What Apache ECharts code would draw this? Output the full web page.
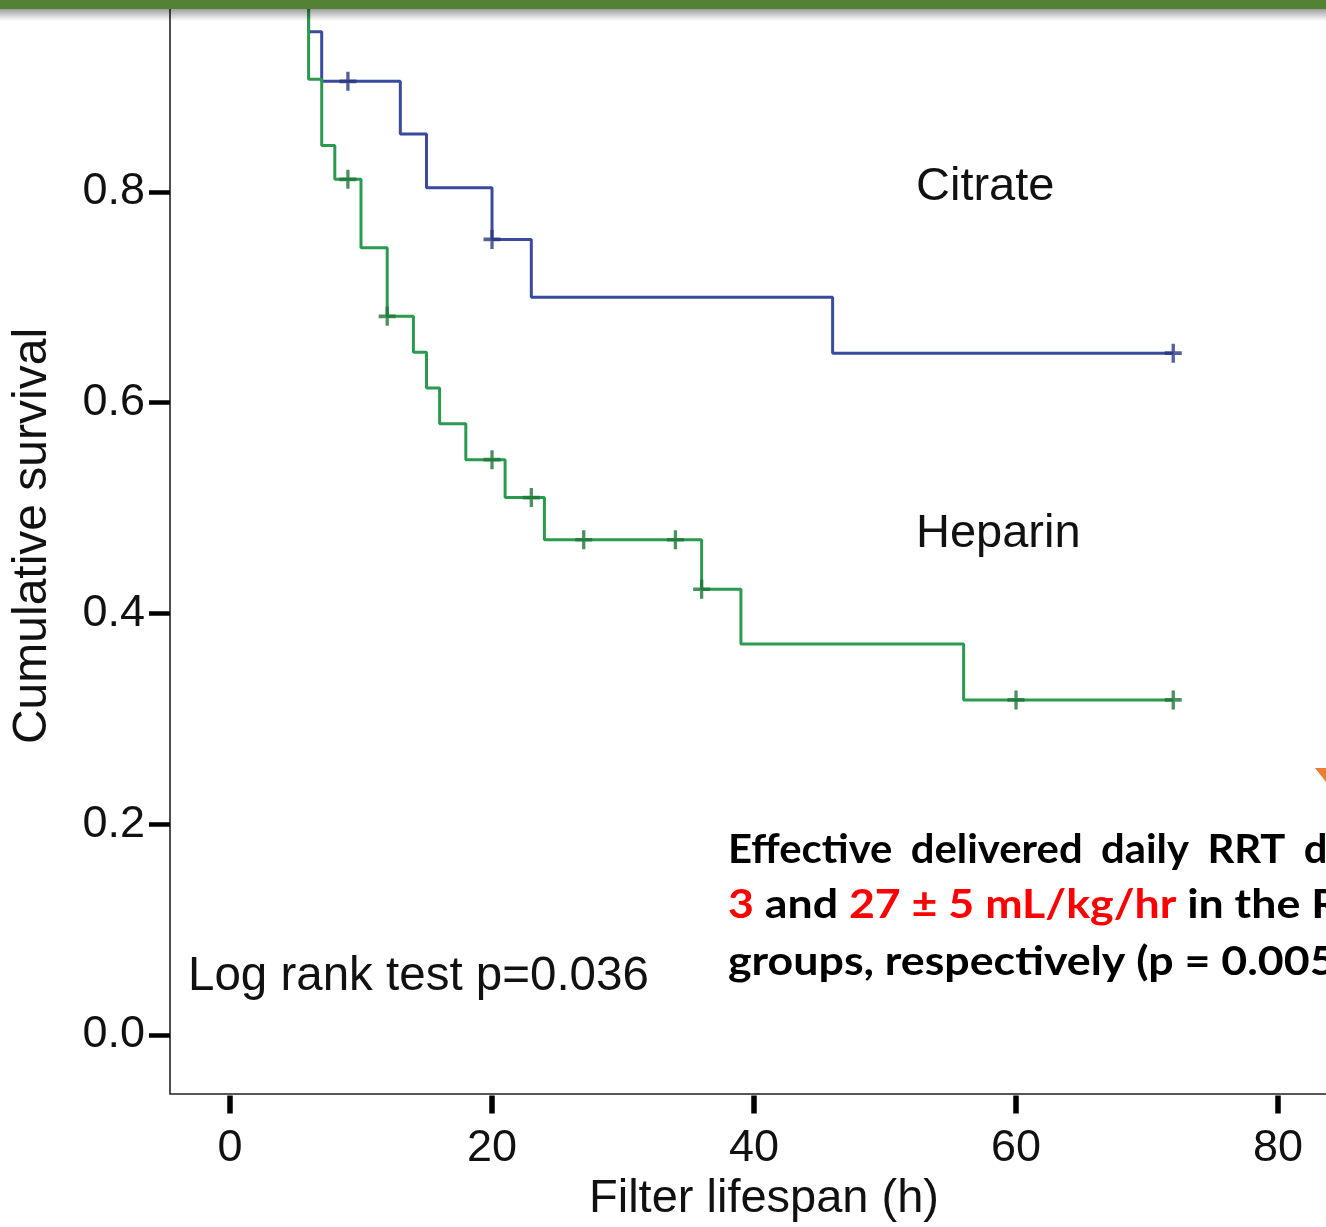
<!DOCTYPE html>
<html>
<head>
<meta charset="utf-8">
<script src="https://cdn.jsdelivr.net/npm/echarts@6/dist/echarts.min.js"></script>
<style>
  html, body { margin: 0; padding: 0; background: #ffffff; }
  #chart { width: 1326px; height: 1227px; }
</style>
</head>
<body>
<div id="chart"></div>
<script>
// ---- Data (Kaplan-Meier step points) ----
var citrateTimes = [0, 6, 7, 13, 15, 20, 23, 46, 72];
var citrateSurv  = [1.0, 0.952, 0.905, 0.855, 0.804, 0.755, 0.700, 0.647, 0.647];
var citrateCensorTimes = [9, 20, 72];
var citrateCensorSurv  = [0.905, 0.755, 0.647];

var heparinTimes = [0, 6, 7, 8, 10, 12, 14, 15, 16, 18, 21, 24, 36, 39, 56, 72];
var heparinSurv  = [1.0, 0.907, 0.844, 0.812, 0.747, 0.682, 0.648, 0.614, 0.580, 0.546, 0.510, 0.470, 0.423, 0.371, 0.318, 0.318];
var heparinCensorTimes = [9, 12, 20, 23, 27, 34, 36, 60, 72];
var heparinCensorSurv  = [0.812, 0.682, 0.546, 0.510, 0.470, 0.470, 0.423, 0.318, 0.318];

var xTickValues = [0, 20, 40, 60, 80];
var yTickValues = [0, 0.2, 0.4, 0.6, 0.8];

var xAxisTitle = 'Filter lifespan (h)';
var yAxisTitle = 'Cumulative survival';
var groupLabels = ['Citrate', 'Heparin'];
var testLabel = 'Log rank test p=0.036';

function zip(a, b) { return a.map(function (v, i) { return [v, b[i]]; }); }

var BLUE = '#3A4A9C';
var BLUE_DARK = '#2A3780';
var GREEN = '#2A9A4E';
var GREEN_DARK = '#1E7638';
var PLUS = 'path://M7.25,0H10.75V7.25H18V10.75H10.75V18H7.25V10.75H0V7.25H7.25Z';
var SANS = '"Liberation Sans", Arial, Helvetica, sans-serif';
var BOLD = '"Lato", "Noto Sans", sans-serif';
var BFONT = 'bold 41px ' + BOLD;

var XMIN = -4.58, XMAX = 83.66;
var YMIN = -0.0555, YMAX = 0.98;

var chart = echarts.init(document.getElementById('chart'), null, { renderer: 'canvas' });

var option = {
  animation: false,
  backgroundColor: '#ffffff',
  grid: { left: 170, right: 0, top: 2.3, bottom: 133.5, containLabel: false },
  xAxis: [
    {
      type: 'value', min: XMIN, max: XMAX, position: 'bottom',
      axisLine: { show: true, onZero: false, lineStyle: { color: '#222', width: 1.6 } },
      axisTick: { show: false }, axisLabel: { show: false }, splitLine: { show: false }
    },
    {
      type: 'value', min: XMIN, max: XMAX, position: 'bottom', offset: 2,
      axisLine: { show: false, onZero: false },
      axisTick: { show: true, customValues: xTickValues, length: 18, lineStyle: { color: '#000', width: 5.5 } },
      axisLabel: { show: true, customValues: xTickValues, fontSize: 45, fontFamily: SANS, color: '#111', margin: 31 },
      splitLine: { show: false }
    }
  ],
  yAxis: [
    {
      type: 'value', min: YMIN, max: YMAX,
      axisLine: { show: true, onZero: false, lineStyle: { color: '#222', width: 1.6 } },
      axisTick: { show: true, customValues: yTickValues, length: 21, lineStyle: { color: '#000', width: 4.5 } },
      axisLabel: {
        show: true, customValues: yTickValues, fontSize: 45, fontFamily: SANS, color: '#111', margin: 25,
        formatter: function (v) { return v.toFixed(1); }
      },
      splitLine: { show: false }
    }
  ],
  series: [
    {
      name: groupLabels[0], type: 'line', step: 'end', data: zip(citrateTimes, citrateSurv),
      showSymbol: false, symbol: 'none', clip: true,
      lineStyle: { color: BLUE, width: 3 }, z: 2
    },
    {
      name: groupLabels[1], type: 'line', step: 'end', data: zip(heparinTimes, heparinSurv),
      showSymbol: false, symbol: 'none', clip: true,
      lineStyle: { color: GREEN, width: 3 }, z: 3
    },
    {
      name: groupLabels[0] + ' censored', type: 'scatter', data: zip(citrateCensorTimes, citrateCensorSurv),
      symbol: PLUS, symbolSize: [17, 19], itemStyle: { color: BLUE_DARK }, z: 4
    },
    {
      name: groupLabels[1] + ' censored', type: 'scatter', data: zip(heparinCensorTimes, heparinCensorSurv),
      symbol: PLUS, symbolSize: [17, 19], itemStyle: { color: GREEN_DARK }, z: 5
    }
  ],
  graphic: [
    // top banner with shadow
    { type: 'rect', shape: { x: 0, y: 9, width: 1326, height: 12 }, z: 100,
      style: { fill: new echarts.graphic.LinearGradient(0, 0, 0, 1, [
        { offset: 0, color: 'rgba(0,0,0,0.38)' }, { offset: 1, color: 'rgba(0,0,0,0)' }]) } },
    { type: 'rect', shape: { x: 0, y: 0, width: 1326, height: 9 }, z: 101, style: { fill: '#548235' } },
    // small orange fragment at right edge
    { type: 'polygon', shape: { points: [[1315, 768], [1326, 768], [1326, 782]] }, z: 50, style: { fill: '#ED7D31' } },
    // group labels
    { type: 'text', x: 916, y: 187, z: 20,
      style: { text: groupLabels[0], font: '47px ' + SANS, fill: '#111', align: 'left', verticalAlign: 'middle' } },
    { type: 'text', x: 916, y: 534, z: 20,
      style: { text: groupLabels[1], font: '47px ' + SANS, fill: '#111', align: 'left', verticalAlign: 'middle' } },
    { type: 'text', x: 188, y: 977, z: 20,
      style: { text: testLabel, font: '47.5px ' + SANS, fill: '#111', align: 'left', verticalAlign: 'middle' } },
    // axis titles
    { type: 'text', x: 764, y: 1199, z: 20,
      style: { text: xAxisTitle, font: '47px ' + SANS, fill: '#111', align: 'center', verticalAlign: 'middle' } },
    { type: 'text', x: 33, y: 536, rotation: Math.PI / 2, z: 20,
      style: { text: yAxisTitle, font: '48px ' + SANS, fill: '#111', align: 'center', verticalAlign: 'middle' } },
    // bold annotation paragraph (clipped at right edge)
    { type: 'text', x: 728, y: 850, scaleX: 1.02, z: 20,
      style: {
        text: '{b|Effective}{s| }{b|delivered}{s| }{b|daily}{s| }{b|RRT}{s| }{b|dose}{s| }{b|was}{s| }{r|34 ±}',
        font: BFONT, fill: '#000', align: 'left', verticalAlign: 'middle',
        rich: {
          b: { font: BFONT, fill: '#000' },
          r: { font: BFONT, fill: '#FF0000' },
          s: { font: BFONT, width: 18 }
        }
      } },
    { type: 'text', x: 728, y: 905, scaleX: 1.09, z: 20,
      style: {
        text: '{r|3}{b| and }{r|27 ± 5 mL/kg/hr}{b| in the RCA and heparin}',
        font: BFONT, fill: '#000', align: 'left', verticalAlign: 'middle',
        rich: {
          b: { font: BFONT, fill: '#000' },
          r: { font: BFONT, fill: '#FF0000' }
        }
      } },
    { type: 'text', x: 728, y: 962, scaleX: 1.09, z: 20,
      style: { text: 'groups, respectively (p = 0.005).', font: BFONT, fill: '#000',
        align: 'left', verticalAlign: 'middle' } }
  ]
};

chart.setOption(option);
</script>
</body>
</html>
